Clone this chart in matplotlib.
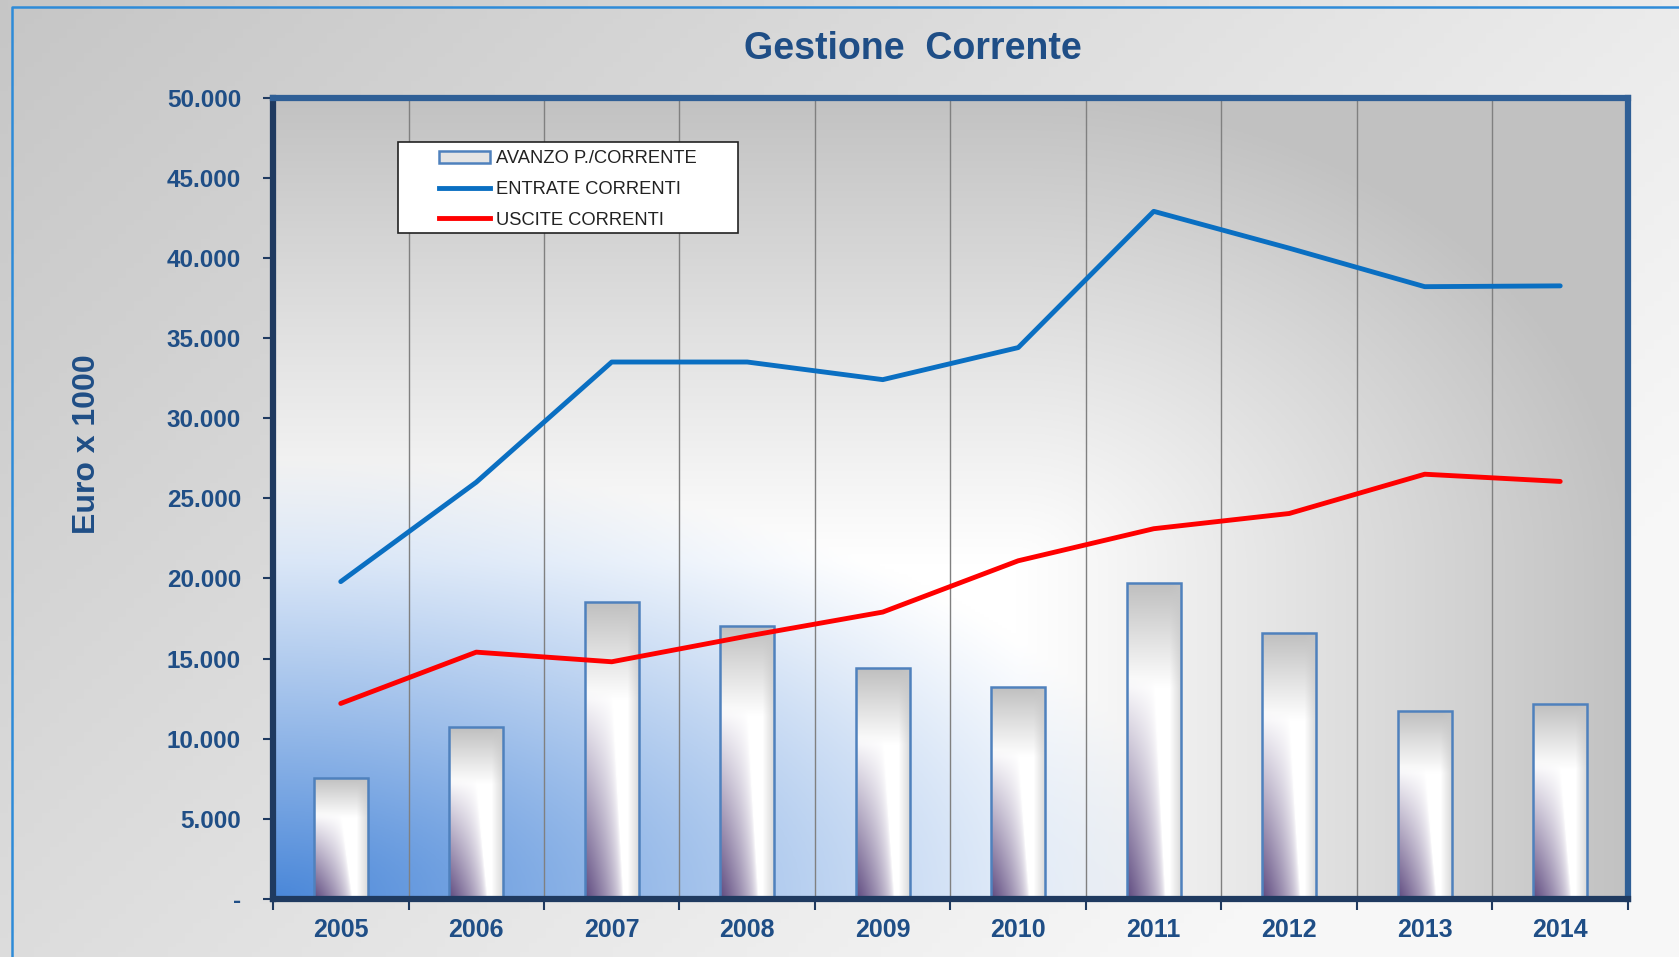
import numpy as np
import matplotlib
matplotlib.use("Agg")
import matplotlib.pyplot as plt
from matplotlib.patches import Rectangle
from matplotlib.lines import Line2D

plt.rcParams['font.family'] = ['Liberation Sans', 'DejaVu Sans']

years = ["2005", "2006", "2007", "2008", "2009", "2010", "2011", "2012", "2013", "2014"]
avanzo = [7550, 10700, 18550, 17050, 14400, 13250, 19700, 16600, 11700, 12150]
entrate = [19800, 26000, 33500, 33500, 32400, 34400, 42900, 40600, 38200, 38250]
uscite = [12200, 15400, 14800, 16400, 17900, 21100, 23100, 24050, 26500, 26050]
yticks = [0, 5000, 10000, 15000, 20000, 25000, 30000, 35000, 40000, 45000, 50000]
ytick_labels = ["-", "5.000", "10.000", "15.000", "20.000", "25.000",
                "30.000", "35.000", "40.000", "45.000", "50.000"]

NAVY = "#1F4E86"
WHITE = np.array([1.0, 1.0, 1.0])


def fig_bg(n=200):
    fx, fy = np.meshgrid(np.linspace(0, 1, n), np.linspace(0, 1, n))
    t = np.clip(0.75 * fx + 0.45 * fy, 0, 1)  # fy = 0 at top
    c = 0.776 + (0.972 - 0.776) * t
    return np.dstack([c, c, c])


def plot_bg(n=300):
    X, Y = np.meshgrid(np.linspace(0, 1, n), np.linspace(0, 1, n))
    gray = np.array([0.76, 0.76, 0.76])
    blue = np.array([0.29, 0.53, 0.85])
    g = np.clip(np.sqrt(np.maximum(0, (Y - 0.42) / 0.58) ** 2 +
                        np.maximum(0, (X - 0.55) / 0.45) ** 2), 0, 1)[..., None]
    r = np.sqrt((X / 0.68) ** 2 + (Y / 0.55) ** 2)
    b = (np.clip(1 - r, 0, 1) ** 1.1)[..., None]
    img = WHITE * (1 - g) + gray * g
    return img * (1 - b) + blue * b


def bar_bg(n=200, m=60):
    U, V = np.meshgrid(np.linspace(0, 1, m), np.linspace(0, 1, n))
    gray = np.array([0.75, 0.75, 0.75])
    purple = np.array([0.37, 0.29, 0.50])
    top = np.clip((V - 0.67) / 0.33, 0, 1)[..., None]
    img = WHITE * (1 - top) + gray * top
    side = (np.clip((U - 0.78) / 0.22, 0, 1) * 0.7)[..., None]
    img = img * (1 - side) + np.array([0.78, 0.78, 0.78]) * side
    lim = 0.7 - 0.3 * V
    vf = np.clip(1 - V / 0.7, 0, 1)
    hf = np.clip(1 - U / lim, 0, 1)
    p = ((vf ** 1.6 * hf) ** 0.6)[..., None]
    return img * (1 - p) + purple * p


fig = plt.figure(figsize=(16.79, 9.57), dpi=100)

bg = fig.add_axes([0, 0, 1, 1], zorder=-10)
bg.imshow(fig_bg(), extent=[0, 1, 0, 1], aspect="auto")
bg.set_xlim(0, 1)
bg.set_ylim(0, 1)
bg.axis("off")
fig.add_artist(Line2D([12 / 1679, 12 / 1679, 1], [0, 1 - 7 / 957, 1 - 7 / 957],
                      color="#2E8BD8", lw=1.8, transform=fig.transFigure))

ax = fig.add_axes([0.1626, 0.0606, 0.807, 0.8375])
ax.patch.set_visible(False)
ax.imshow(plot_bg(), extent=[0, 1, 0, 1], transform=ax.transAxes,
          aspect="auto", zorder=0, origin="lower")

x = np.arange(len(years))
bars = ax.bar(x, avanzo, width=0.4, facecolor="none", edgecolor="#4F81BD",
              lw=1.8, zorder=3)
bimg = bar_bg()
for patch in bars.patches:
    x0, w, h = patch.get_x(), patch.get_width(), patch.get_height()
    im = ax.imshow(bimg, extent=[x0, x0 + w, 0, h], origin="lower",
                   aspect="auto", zorder=2, interpolation="bilinear")
    im.set_clip_path(patch)

ax.plot(x, entrate, color="#0A6FC2", lw=3.5, zorder=4, solid_capstyle="round")
ax.plot(x, uscite, color="#FF0000", lw=3.5, zorder=4, solid_capstyle="round")

ax.set_xlim(-0.5, 9.5)
ax.set_ylim(0, 50000)

ax.set_xticks(x, years, fontsize=18, fontweight="bold", color=NAVY)
ax.set_xticks(np.arange(-0.5, 10, 1), minor=True)
ax.set_yticks(yticks, ytick_labels, fontsize=17.5, fontweight="bold", color=NAVY)
ax.tick_params(axis="x", which="major", length=0, pad=14)
ax.tick_params(axis="x", which="minor", length=8, width=1.5, color="#1F3A60")
ax.tick_params(axis="y", length=7, width=1.5, color="#1F3A60", pad=16)
ax.grid(True, axis="x", which="minor", color="#808080", lw=1.0, zorder=1)
ax.set_axisbelow(True)

for side, col in [("left", "#1F3A60"), ("bottom", "#1F3A60"),
                  ("top", "#2F5F96"), ("right", "#2F5F96")]:
    ax.spines[side].set_color(col)
    ax.spines[side].set_linewidth(4.5)
    ax.spines[side].set_zorder(5)

ax.set_ylabel("Euro x 1000", fontsize=23, fontweight="bold", color=NAVY)
ax.yaxis.set_label_coords(-0.126, 0.568)

fig.text(913 / 1679, 1 - 49 / 957, "Gestione  Corrente", fontsize=27,
         fontweight="bold", color=NAVY, ha="center", va="center")

# legend: frame drawn separately so the entries sit centred in a wider box
ax.add_patch(Rectangle((0.0923, 0.831), 0.251, 0.1135, transform=ax.transAxes,
                       facecolor="white", edgecolor="#222222", lw=1.2, zorder=6))
handles = [Rectangle((0, 0), 1, 1, facecolor="#E4E4E4", edgecolor="#4F81BD", lw=1.8),
           Line2D([], [], color="#0A6FC2", lw=3.5),
           Line2D([], [], color="#FF0000", lw=3.5)]
labels = ["AVANZO P./CORRENTE", "ENTRATE CORRENTI", "USCITE CORRENTI"]
leg = ax.legend(handles, labels, loc="upper left", bbox_to_anchor=(0.1225, 0.934),
                frameon=False, fontsize=13.2, handlelength=2.8, handletextpad=0.3,
                labelspacing=0.75, borderpad=0, borderaxespad=0)
leg.set_zorder(7)
for t in leg.get_texts():
    t.set_color("#222222")

fig.savefig("out.png", dpi=100)
